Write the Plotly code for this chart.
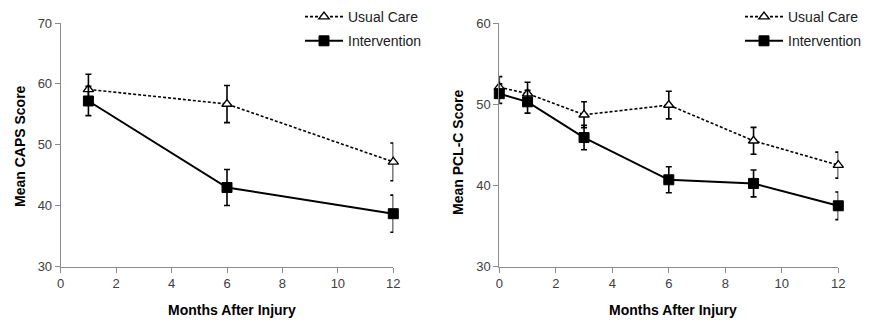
import plotly.graph_objects as go

# ---- data ----
caps_months = [1, 6, 12]
caps_usual = [59.1, 56.7, 47.2]
caps_usual_err = [2.5, 3.05, 3.1]
caps_interv = [57.2, 43.0, 38.7]
caps_interv_err = [2.4, 2.95, 3.05]

pcl_months = [0, 1, 3, 6, 9, 12]
pcl_usual = [52.1, 51.3, 48.7, 49.9, 45.5, 42.5]
pcl_usual_err = [1.3, 1.4, 1.6, 1.7, 1.65, 1.6]
pcl_interv = [51.3, 50.3, 45.9, 40.7, 40.25, 37.5]
pcl_interv_err = [1.2, 1.4, 1.5, 1.6, 1.65, 1.7]

x_ticks = [0, 2, 4, 6, 8, 10, 12]
caps_yticks = [30, 40, 50, 60, 70]
pcl_yticks = [30, 40, 50, 60]

FONT = "Liberation Sans, Arial, sans-serif"
AX = "#8c8c8c"
OFF = 8  # page body margin offset
W, H = 870 - OFF, 324 - OFF


def px(p):
    return (p - OFF) / W


def py(p):
    return 1 - (p - OFF) / H


fig = go.Figure()


def add_pair(xs, u, ue, iv, ie, xa, ya, leg):
    fig.add_trace(go.Scatter(
        x=xs, y=u, mode="lines+markers", name="Usual Care",
        xaxis=xa, yaxis=ya, legend=leg, legendgroup=leg + "u",
        line=dict(color="black", width=1.6, dash="3px,2px"),
        marker=dict(symbol="triangle-up", size=9, color="white",
                    line=dict(color="black", width=1.4)),
        error_y=dict(type="data", array=ue, color="black", thickness=1.6, width=3),
        cliponaxis=False))
    fig.add_trace(go.Scatter(
        x=xs, y=iv, mode="lines+markers", name="Intervention",
        xaxis=xa, yaxis=ya, legend=leg, legendgroup=leg + "i",
        line=dict(color="black", width=2),
        marker=dict(symbol="square", size=10, color="black",
                    line=dict(color="black", width=1)),
        error_y=dict(type="data", array=ie, color="black", thickness=1.6, width=3),
        cliponaxis=False))


add_pair(caps_months, caps_usual, caps_usual_err, caps_interv, caps_interv_err, "x", "y", "legend")
add_pair(pcl_months, pcl_usual, pcl_usual_err, pcl_interv, pcl_interv_err, "x2", "y2", "legend2")

axis_common = dict(showgrid=False, zeroline=False, showline=True, linecolor=AX, linewidth=1,
                   ticks="outside", ticklen=5, tickcolor=AX, tickwidth=1, automargin=False,
                   tickfont=dict(family=FONT, size=13, color="#404040"))

ydom = [py(266.7), py(23)]
leg_common = dict(y=1 + 7 / H, xanchor="left", yanchor="top", bgcolor="rgba(0,0,0,0)",
                  font=dict(family=FONT, size=14, color="#202020"), tracegroupgap=3, itemwidth=38)
title_font = dict(family=FONT, size=14, color="black")
fig.update_layout(
    width=W, height=H,
    margin=dict(l=0, r=0, t=0, b=0, pad=0, autoexpand=False),
    paper_bgcolor="white", plot_bgcolor="white",
    showlegend=True,
    xaxis=dict(domain=[px(60.7), px(393.3)], range=[0, 12], tickvals=x_ticks, anchor="y", **axis_common),
    yaxis=dict(domain=ydom, range=[30, 70], tickvals=caps_yticks, anchor="x", **axis_common),
    xaxis2=dict(domain=[px(499.3), px(838.3)], range=[0, 12], tickvals=x_ticks, anchor="y2", **axis_common),
    yaxis2=dict(domain=ydom, range=[30, 60], tickvals=pcl_yticks, anchor="x2", **axis_common),
    legend=dict(x=px(300), **leg_common),
    legend2=dict(x=px(740), **leg_common),
    annotations=[
        dict(text="<b>Months After Injury</b>", x=px(232), y=py(310), xref="paper", yref="paper",
             xanchor="center", yanchor="middle", showarrow=False, font=title_font),
        dict(text="<b>Months After Injury</b>", x=px(673), y=py(310), xref="paper", yref="paper",
             xanchor="center", yanchor="middle", showarrow=False, font=title_font),
        dict(text="<b>Mean CAPS Score</b>", x=px(20), y=py(146), xref="paper", yref="paper",
             xanchor="center", yanchor="middle", textangle=-90, showarrow=False, font=title_font),
        dict(text="<b>Mean PCL-C Score</b>", x=px(458), y=py(153), xref="paper", yref="paper",
             xanchor="center", yanchor="middle", textangle=-90, showarrow=False, font=title_font),
    ],
)

fig.write_html("out.html")
